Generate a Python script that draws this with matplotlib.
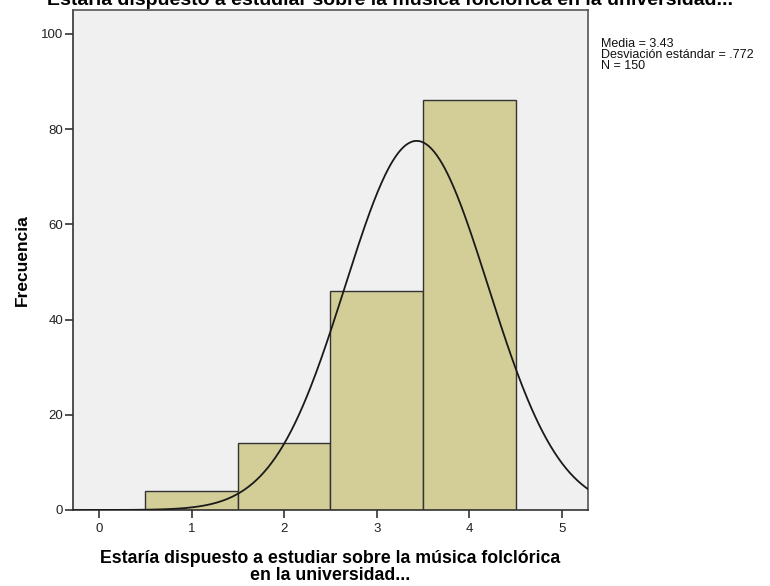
import numpy as np
import matplotlib
matplotlib.use("Agg")
import matplotlib.pyplot as plt

plt.rcParams['font.family'] = ['Liberation Sans', 'DejaVu Sans']

# data
categories = [1, 2, 3, 4]
counts = [4, 14, 46, 86]
media = 3.43
desv = 0.772
n_total = 150
x_ticks = [0, 1, 2, 3, 4, 5]
y_ticks = [0, 20, 40, 60, 80, 100]

fig = plt.figure(figsize=(7.7, 5.86), dpi=100)
ax = fig.add_axes([73/770, 1 - 510/586, 515/770, 500/586])
ax.set_facecolor("#F0F0F0")

ax.bar(categories, counts, width=1.0, color="#D3CE98", edgecolor="#333333", linewidth=1.0, zorder=2)

# fitted normal curve
xs = np.linspace(-0.28, 5.28, 400)
ys = n_total * 1.0 / (desv * np.sqrt(2 * np.pi)) * np.exp(-0.5 * ((xs - media) / desv) ** 2)
ax.plot(xs, ys, color="#1a1a1a", linewidth=1.3, zorder=3)

ax.set_xlim(-0.28, 5.28)
ax.set_ylim(0, 105)
ax.set_xticks(x_ticks)
ax.set_yticks(y_ticks)
ax.tick_params(axis="both", direction="out", length=6, width=1.2, color="#333333",
               labelsize=9.5, labelcolor="#222222", pad=3)
ax.tick_params(axis="y", pad=1)
for s in ax.spines.values():
    s.set_color("#555555")
    s.set_linewidth(1.2)
ax.spines["left"].set_color("#333333")
ax.spines["bottom"].set_color("#333333")

ax.set_ylabel("Frecuencia", fontsize=12.5, fontweight="bold", labelpad=8)
ax.set_xlabel("Estaría dispuesto a estudiar sobre la música folclórica\nen la universidad...",
              fontsize=12.8, fontweight="bold", labelpad=11, linespacing=1.05)

fig.text(601/770, 1 - 38/586,
         f"Media = {media:.2f}\nDesviación estándar = {str(desv)[1:]}\nN = {n_total}",
         fontsize=9, va="top", ha="left", linespacing=0.9, color="#111111")

# title sits partly above the top edge, as in the original export
fig.text(390/770, 1 - 5/586, "Estaría dispuesto a estudiar sobre la música folclórica en la universidad...",
         fontsize=14, fontweight="bold", ha="center", va="baseline")

fig.savefig("out.png", dpi=100)
